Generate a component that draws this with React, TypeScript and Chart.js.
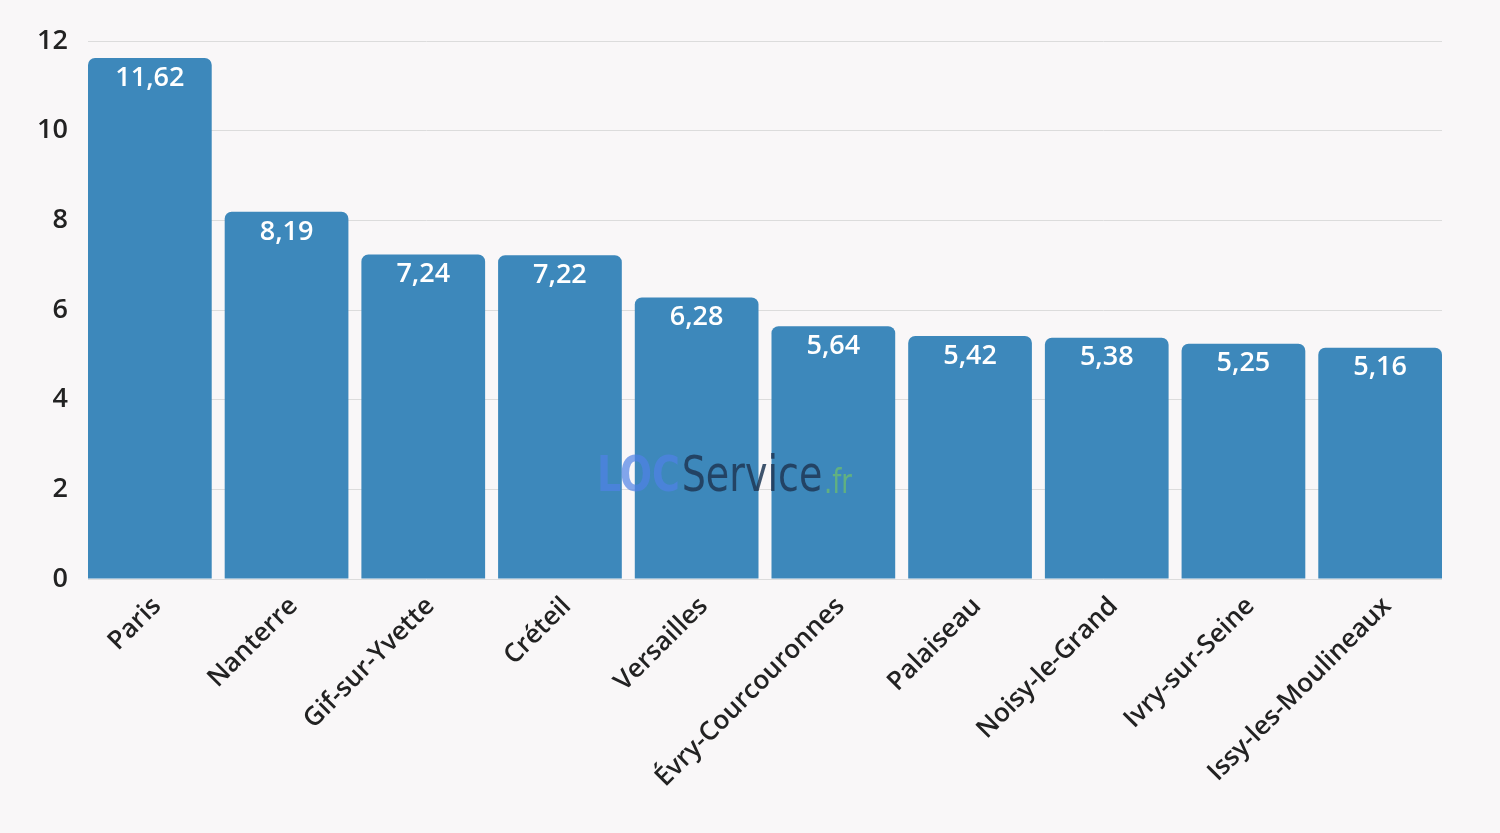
import React, { useEffect, useRef } from "react";
import { Chart, registerables } from "chart.js";

Chart.register(...registerables);

const categories = [
  "Paris",
  "Nanterre",
  "Gif-sur-Yvette",
  "Créteil",
  "Versailles",
  "Évry-Courcouronnes",
  "Palaiseau",
  "Noisy-le-Grand",
  "Ivry-sur-Seine",
  "Issy-les-Moulineaux",
];
const values = [11.62, 8.19, 7.24, 7.22, 6.28, 5.64, 5.42, 5.38, 5.25, 5.16];
const yTicks = [0, 2, 4, 6, 8, 10, 12];

const BG = "#f9f7f8";
const BAR = "#3d88bb";
const FONT = "'Open Sans', 'Noto Sans', sans-serif";
const BAR_FRAC = 0.905;

const valueLabels = {
  id: "valueLabels",
  afterDatasetsDraw(chart: any) {
    const ctx = chart.ctx;
    const meta = chart.getDatasetMeta(0);
    ctx.save();
    ctx.fillStyle = "#ffffff";
    ctx.font = `600 27px ${FONT}`;
    ctx.textAlign = "center";
    ctx.textBaseline = "middle";
    meta.data.forEach((bar: any, i: number) => {
      const txt = values[i].toFixed(2).replace(".", ",");
      ctx.fillText(txt, bar.x, bar.y + 20);
    });
    ctx.restore();
  },
};

const watermark = {
  id: "watermark",
  afterDatasetsDraw(chart: any) {
    const ctx = chart.ctx;
    const area = chart.chartArea;
    const w = area.right - area.left;
    const x0 = area.left + ((597 - 88) / 1354) * w;
    const targetW = 255;
    const cy = 478;
    const fam = "'DejaVu Sans Condensed', 'Liberation Sans Narrow', sans-serif";
    const f1 = `bold 50px ${fam}`;
    const f2 = `200 50px ${fam}`;
    const f3 = `200 34px ${fam}`;
    ctx.save();
    ctx.textBaseline = "middle";
    ctx.textAlign = "left";
    ctx.font = f1;
    const w1 = ctx.measureText("LOC").width;
    ctx.font = f2;
    const w2 = ctx.measureText("Service").width;
    ctx.font = f3;
    const w3 = ctx.measureText(".fr").width;
    const total = w1 + w2 + w3 + 4;
    ctx.translate(x0, cy);
    ctx.scale(targetW / total, 1);
    let x = 0;
    ctx.font = f1;
    ctx.fillStyle = "rgba(80,130,230,0.7)";
    ctx.fillText("LOC", x, 0);
    x += w1 + 2;
    ctx.font = f2;
    ctx.fillStyle = "rgba(30,55,85,0.85)";
    ctx.fillText("Service", x, 0);
    x += w2 + 2;
    ctx.font = f3;
    ctx.fillStyle = "rgba(110,190,110,0.75)";
    ctx.fillText(".fr", x, 6);
    ctx.restore();
  },
};

export default function App() {
  const ref = useRef<HTMLCanvasElement>(null);
  useEffect(() => {
    document.body.style.margin = "0";
    document.body.style.background = BG;
    const points = values.map((v, i) => ({ x: i, y: v }));
    const chart = new Chart(ref.current as HTMLCanvasElement, {
      type: "bar",
      data: {
        datasets: [
          {
            data: points as any,
            backgroundColor: BAR,
            borderRadius: { topLeft: 7, topRight: 7, bottomLeft: 0, bottomRight: 0 },
            borderSkipped: "bottom",
            barPercentage: BAR_FRAC,
            categoryPercentage: 1,
          },
        ],
      },
      options: {
        animation: false,
        responsive: false,
        maintainAspectRatio: false,
        layout: { padding: { top: 41, left: 0, right: 58, bottom: 0 } },
        plugins: {
          legend: { display: false },
          tooltip: { enabled: false },
        },
        scales: {
          x: {
            type: "linear",
            min: -BAR_FRAC / 2,
            max: categories.length - 1 + BAR_FRAC / 2,
            offset: false,
            afterBuildTicks(axis: any) {
              axis.ticks = categories.map((_, i) => ({ value: i }));
            },
            grid: { display: false },
            border: { display: false },
            afterFit(axis: any) {
              axis.height = 254;
            },
            ticks: {
              color: "#222222",
              font: { family: FONT, size: 26, weight: "600" as any },
              maxRotation: 45,
              minRotation: 45,
              padding: 4,
              labelOffset: 7,
              autoSkip: false,
              callback: (v: any) => categories[Math.round(Number(v))] ?? "",
            },
          },
          y: {
            min: 0,
            max: 12,
            afterBuildTicks(axis: any) {
              axis.ticks = yTicks.map((v) => ({ value: v }));
            },
            afterFit(axis: any) {
              axis.width = 88;
            },
            grid: { color: "#dcdcdc", lineWidth: 1, drawTicks: false },
            border: { display: false },
            ticks: {
              color: "#222222",
              font: { family: FONT, size: 27, weight: "600" as any },
              padding: 20,
            },
          },
        },
      },
      plugins: [valueLabels, watermark],
    });
    return () => chart.destroy();
  }, []);
  return (
    <div style={{ width: 1500, height: 833, background: BG }}>
      <canvas ref={ref} width={1500} height={833} style={{ display: "block" }} />
    </div>
  );
}
